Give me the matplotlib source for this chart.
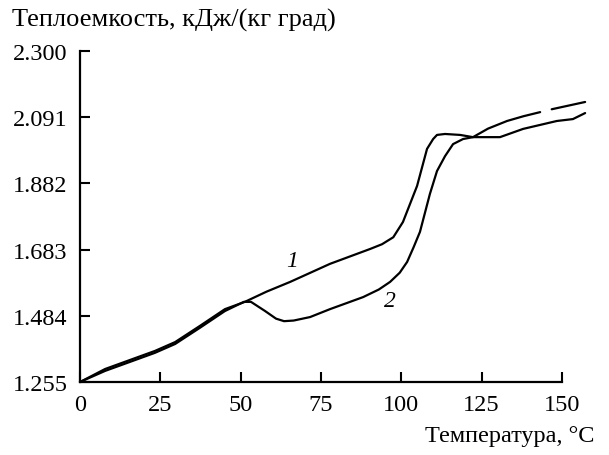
import numpy as np
import matplotlib.pyplot as plt

plt.rcParams['font.family'] = ['Liberation Serif', 'DejaVu Serif']

# shared part (both runs overlap up to ~52 C)
t_common = [0, 7.8, 23.3, 29.6, 37.3, 45.1, 51.3]
cp_common = [1.255, 1.296, 1.353, 1.381, 1.432, 1.485, 1.508]

# curve 1 (main part, then short tail after the small gap)
t1 = [58.0, 65.4, 77.8, 90.3, 94.0, 97.5, 100.5, 104.9, 108.0, 109.9, 111.1,
      113.6, 118.3, 122.3, 127.0, 132.9, 138.0, 143.2]
cp1 = [1.540, 1.571, 1.628, 1.675, 1.690, 1.712, 1.760, 1.874, 1.991, 2.022,
       2.035, 2.038, 2.035, 2.028, 2.055, 2.079, 2.094, 2.107]
t1_tail = [146.8, 157.2]
cp1_tail = [2.116, 2.139]

# curve 2
t2 = [53.2, 57.6, 61.0, 63.5, 66.5, 71.6, 77.8, 88.1, 93.0, 96.5, 99.5,
      101.8, 103.8, 105.8, 108.9, 111.1, 113.6, 116.1, 119.2, 122.3, 130.7,
      137.9, 148.4, 153.4, 157.2]
cp2 = [1.508, 1.479, 1.455, 1.447, 1.449, 1.460, 1.485, 1.523, 1.547, 1.571,
       1.600, 1.634, 1.680, 1.729, 1.849, 1.921, 1.968, 2.006, 2.022, 2.028,
       2.028, 2.054, 2.079, 2.085, 2.104]

y_ticks = ["1.255", "1.484", "1.683", "1.882", "2.091", "2.300"]
x_ticks = [0, 25, 50, 75, 100, 125, 150]


def main() -> None:
    fig = plt.figure(figsize=(6.09, 4.56), dpi=100)
    ax = fig.add_axes([0.1314, 0.1601, 0.7914, 0.7259])

    x1 = t_common + t1
    y1 = cp_common + cp1
    x2 = t_common[:-1] + [t_common[-1] - 0.3] + t2
    y2 = [c - 0.006 if 0 < i < len(cp_common) - 1 else c
          for i, c in enumerate(cp_common)] + cp2

    kw = dict(color="black", lw=1.6, clip_on=False, solid_joinstyle="round",
              solid_capstyle="round")
    ax.plot(x1, y1, **kw)
    ax.plot(t1_tail, cp1_tail, **kw)
    ax.plot(x2, y2, **kw)

    ax.text(66, 1.637, "1", fontsize=17, style="italic", ha="center", va="center")
    ax.text(96.5, 1.511, "2", fontsize=17, style="italic", ha="center", va="center")

    ax.set_xlim(0, 150)
    ax.set_ylim(1.255, 2.300)
    ax.set_xticks(x_ticks)
    ax.set_yticks(np.linspace(1.255, 2.300, len(y_ticks)))
    ax.set_yticklabels(y_ticks)

    for s in ["top", "right"]:
        ax.spines[s].set_visible(False)
    for s in ["left", "bottom"]:
        ax.spines[s].set_linewidth(1.6)

    ax.tick_params(direction="in", length=7, width=1.5, labelsize=17.5)
    ax.tick_params(axis="y", pad=9)
    ax.tick_params(axis="x", pad=9)

    fig.text(12 / 609, 1 - 20 / 456, "Теплоемкость, кДж/(кг град)",
             fontsize=19, ha="left", va="center")
    fig.text(594 / 609, 1 - 437 / 456, "Температура, °C",
             fontsize=17.5, ha="right", va="center")

    fig.savefig("out.png", dpi=100)


if __name__ == "__main__":
    main()
